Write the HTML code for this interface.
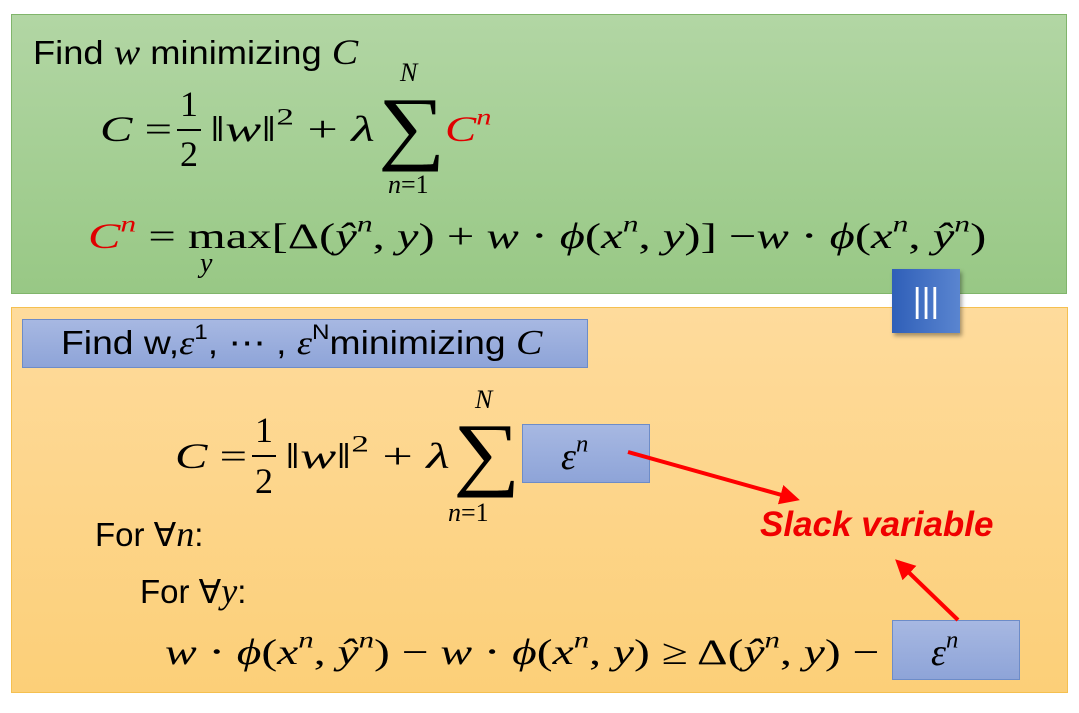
<!DOCTYPE html>
<html><head><meta charset="utf-8">
<style>
body{margin:0;width:1079px;height:713px;background:#fff;position:relative;overflow:hidden;font-family:"Liberation Sans",sans-serif;}
.a{position:absolute;white-space:nowrap;line-height:1;}
.m{font-family:"Liberation Serif","DejaVu Serif",serif;font-size:36px;color:#000;}
.i{font-style:italic;}
.r{color:#e00000;}
.sx{transform-origin:0 0;}
sup{font-size:0.65em;vertical-align:0.7em;line-height:0;}
</style></head><body>
<div class="a" style="left:11px;top:14px;width:1056px;height:280px;background:linear-gradient(#b2d6a4,#98c885);border:1px solid #80b56b;box-sizing:border-box"></div>
<div class="a" style="left:11px;top:307px;width:1057px;height:386px;background:linear-gradient(#fedb9c,#fccf78);border:1px solid #f5c050;box-sizing:border-box"></div>
<div class="a" style="left:892px;top:269px;width:68px;height:64px;background:linear-gradient(90deg,#2f5fb8,#5a85d0);box-shadow:2px 3px 4px rgba(0,0,0,.35);color:#fff;font-size:34px;text-align:center;line-height:64px">|||</div>

<div class="a sx" style="left:33px;top:34px;font-size:33px;transform:scaleX(1.1)">Find <span class="m i" style="font-size:36px">w</span> minimizing <span class="m i" style="font-size:36px">C</span></div>

<div class="a m sx" style="left:100px;top:111px;transform:scaleX(1.35)"><i>C</i> =</div>
<div class="a m" style="left:180px;top:86px">1</div>
<div class="a" style="left:177px;top:129px;width:24px;height:2px;background:#000"></div>
<div class="a m" style="left:180px;top:136px">2</div>
<div class="a m sx" style="left:210px;top:111px;transform:scaleX(1.5)">‖<i>w</i>‖<sup>2</sup> + <i>λ</i></div>
<div class="a m sx" style="left:378px;top:86px;font-size:82px;transform:scaleX(1.15)">∑</div>
<div class="a m i" style="left:400px;top:60px;font-size:26px">N</div>
<div class="a m" style="left:388px;top:172px;font-size:26px"><i>n</i>=1</div>
<div class="a m i r sx" style="left:445px;top:111px;transform:scaleX(1.3)">C<sup>n</sup></div>

<div class="a m sx" style="left:88px;top:218px;transform:scaleX(1.35)"><i class="r">C<sup>n</sup></i> = max[Δ(<i>ŷ<sup>n</sup></i>, <i>y</i>) + <i>w</i> ⋅ <i>ϕ</i>(<i>x<sup>n</sup></i>, <i>y</i>)] −<i>w</i> ⋅ <i>ϕ</i>(<i>x<sup>n</sup></i>, <i>ŷ<sup>n</sup></i>)</div>
<div class="a m i" style="left:200px;top:250px;font-size:28px">y</div>

<div class="a" style="left:22px;top:319px;width:566px;height:49px;background:linear-gradient(#a7b8e2,#8ea4d8);border:1px solid #6d8cc8;box-sizing:border-box"></div>
<div class="a sx" style="left:61px;top:325px;font-size:33px;transform:scaleX(1.13)">Find w,<span class="m i" style="font-size:34px">ε</span><sup>1</sup>, ⋯ , <span class="m i" style="font-size:34px">ε</span><sup>N</sup>minimizing <span class="m i" style="font-size:35px">C</span></div>

<div class="a m sx" style="left:175px;top:438px;transform:scaleX(1.35)"><i>C</i> =</div>
<div class="a m" style="left:255px;top:412px">1</div>
<div class="a" style="left:252px;top:455px;width:24px;height:2px;background:#000"></div>
<div class="a m" style="left:255px;top:463px">2</div>
<div class="a m sx" style="left:285px;top:438px;transform:scaleX(1.5)">‖<i>w</i>‖<sup>2</sup> + <i>λ</i></div>
<div class="a m sx" style="left:453px;top:412px;font-size:82px;transform:scaleX(1.15)">∑</div>
<div class="a m i" style="left:475px;top:387px;font-size:26px">N</div>
<div class="a m" style="left:448px;top:500px;font-size:26px"><i>n</i>=1</div>
<div class="a m i" style="left:522px;top:424px;width:128px;height:59px;background:linear-gradient(#a7b8e2,#8ea4d8);border:1px solid #6d8cc8;box-sizing:border-box;padding:13px 0 0 38px;font-size:38px">ε<sup>n</sup></div>

<div class="a" style="left:95px;top:516px;font-size:33px">For ∀<span class="m i" style="font-size:36px">n</span>:</div>
<div class="a" style="left:140px;top:573px;font-size:33px">For ∀<span class="m i" style="font-size:36px">y</span>:</div>

<div class="a m sx" style="left:165px;top:634px;transform:scaleX(1.32)"><i>w</i> ⋅ <i>ϕ</i>(<i>x<sup>n</sup></i>, <i>ŷ<sup>n</sup></i>) − <i>w</i> ⋅ <i>ϕ</i>(<i>x<sup>n</sup></i>, <i>y</i>) ≥ Δ(<i>ŷ<sup>n</sup></i>, <i>y</i>) −</div>
<div class="a m i" style="left:892px;top:620px;width:128px;height:60px;background:linear-gradient(#a7b8e2,#8ea4d8);border:1px solid #6d8cc8;box-sizing:border-box;padding:13px 0 0 38px;font-size:38px">ε<sup>n</sup></div>

<div class="a" style="left:760px;top:507px;font-size:35px;font-weight:bold;font-style:italic;color:#f00000">Slack variable</div>
<svg class="a" style="left:0;top:0" width="1079" height="713">
<defs><marker id="ah" markerWidth="5" markerHeight="5" refX="4" refY="2.5" orient="auto"><path d="M0,0 L5,2.5 L0,5 Z" fill="#f00"/></marker></defs>
<line x1="628" y1="452" x2="796" y2="499" stroke="#f00" stroke-width="4" marker-end="url(#ah)"/>
<line x1="958" y1="620" x2="898" y2="562" stroke="#f00" stroke-width="4" marker-end="url(#ah)"/>
</svg>
</body></html>
